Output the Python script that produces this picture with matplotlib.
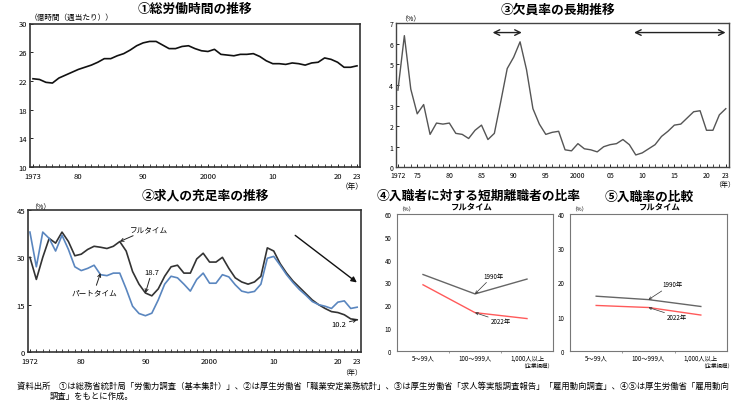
import numpy as np
import matplotlib.pyplot as plt

plt.rcParams["font.family"] = ["Noto Sans CJK JP", "DejaVu Sans"]

W, H = 750, 402

# ① 総労働時間 (億時間/週)
hours_years = list(range(1973, 2024))
hours = [22.3, 22.2, 21.8, 21.7, 22.4, 22.8, 23.2, 23.6, 23.9, 24.2,
         24.6, 25.1, 25.1, 25.5, 25.8, 26.3, 26.9, 27.3, 27.5, 27.5,
         27.0, 26.5, 26.5, 26.8, 26.9, 26.5, 26.2, 26.1, 26.4, 25.7,
         25.6, 25.5, 25.7, 25.7, 25.8, 25.4, 24.8, 24.4, 24.4, 24.3,
         24.5, 24.4, 24.2, 24.5, 24.6, 25.2, 25.0, 24.6, 23.9, 23.9, 24.1]

# ③ 欠員率 (%)
vac_years = list(range(1972, 2024))
vacancy = [3.75, 6.4, 3.8, 2.6, 3.05, 1.6, 2.15, 2.1, 2.15, 1.65,
           1.6, 1.4, 1.8, 2.05, 1.35, 1.65, 3.2, 4.8, 5.35, 6.1,
           4.75, 2.85, 2.1, 1.6, 1.7, 1.75, 0.85, 0.8, 1.15, 0.9,
           0.85, 0.75, 1.0, 1.1, 1.15, 1.35, 1.1, 0.6, 0.7, 0.9,
           1.1, 1.5, 1.75, 2.05, 2.1, 2.4, 2.7, 2.75, 1.8, 1.8, 2.55, 2.85]

# ② 求人の充足率 (%)
fill_years = list(range(1972, 2024))
fill_full = [30, 23, 30, 36, 34.5, 38, 35, 30.5, 31, 32.5,
             33.5, 33.2, 32.8, 33.5, 35, 32, 25.5, 21.5, 18.7, 17.8,
             20, 24, 27, 27.5, 25, 25, 29.5, 31.3, 28.5, 28.5,
             30, 26.5, 23.5, 22.2, 21.5, 22.2, 24, 33, 32, 28,
             25, 22.5, 20.5, 18.5, 16.5, 15, 13.8, 12.8, 12.5, 11.8, 10.5, 10.2]
fill_part = [38, 27, 38, 36, 32, 37, 32.5, 27, 25.8, 26.5,
             27.5, 24.5, 24.2, 25, 25, 20, 14.5, 12.2, 11.5, 12.3,
             16.5, 21.5, 24, 23.5, 21.5, 19.3, 23, 25, 21.8, 21.8,
             24.5, 23.8, 21.3, 19.3, 18.8, 19.2, 21.5, 29.7, 30.3, 27.5,
             24.5, 22, 19.8, 18, 16, 15, 14.5, 13.8, 15.8, 16.2, 13.8, 14.2]

# ④⑤ 企業規模別
size_labels = ["5～99人", "100～999人", "1,000人以上"]
short_sep_1990 = [33.5, 25, 31.5]
short_sep_2022 = [29, 16.8, 14.2]
entry_1990 = [16, 15, 13]
entry_2022 = [13.3, 12.7, 10.5]


def rect(l, t, r, b):
    return [l / W, 1 - b / H, (r - l) / W, (b - t) / H]


def style(ax, lw=1.0, color="#333333"):
    for s in ax.spines.values():
        s.set_linewidth(lw)
        s.set_color(color)
    ax.tick_params(direction="in", labelsize=5.5, length=2.5, width=0.6, pad=2)
    ax.tick_params(axis="x", pad=3.5)


fig = plt.figure(figsize=(W / 100, H / 100), dpi=100)
tfont = dict(fontsize=9.2, fontweight="bold")

# ---- ① ----
ax1 = fig.add_axes(rect(30, 24.5, 360, 168))
ax1.plot(hours_years, hours, color="#111111", lw=1.2)
ax1.set_xlim(1972.54, 2023.46)
ax1.set_ylim(10, 30)
ax1.set_yticks([10, 14, 18, 22, 26, 30])
ax1.set_xticks(hours_years, minor=True)
ax1.set_xticks([1973, 1980, 1990, 2000, 2010, 2020, 2023])
ax1.set_xticklabels(["1973", "80", "90", "2000", "10", "20", "23"])
style(ax1, 1.2)
ax1.tick_params(axis="x", which="minor", direction="in", length=2, width=0.5)
fig.text(195 / W, 1 - 9 / H, "①総労働時間の推移", ha="center", va="center", **tfont)
fig.text(30 / W, 1 - 18 / H, "（億時間（週当たり））", ha="left", va="center", fontsize=5.5)
fig.text(352 / W, 1 - 187 / H, "（年）", ha="center", va="center", fontsize=5.5)

# ---- ③ ----
ax3 = fig.add_axes(rect(396, 24.3, 729, 168.3))
ax3.plot(vac_years, vacancy, color="#555555", lw=1.0)
ax3.set_xlim(1971.7, 2023.5)
ax3.set_ylim(0, 7)
ax3.set_yticks(range(0, 8))
ax3.set_xticks(vac_years, minor=True)
ax3.set_xticks([1972, 1975, 1980, 1985, 1990, 1995, 2000, 2005, 2010, 2015, 2020, 2023])
ax3.set_xticklabels(["1972", "75", "80", "85", "90", "95", "2000", "05", "10", "15", "20", "23"])
style(ax3, 1.0, "#444444")
ax3.tick_params(axis="both", labelsize=5)
ax3.tick_params(axis="x", pad=2.5)
ax3.tick_params(axis="x", which="minor", direction="in", length=2, width=0.5)
ax3.annotate("", xy=(1986.3, 6.55), xytext=(1991.7, 6.55),
             arrowprops=dict(arrowstyle="<->", color="#222222", lw=1.0))
ax3.annotate("", xy=(2008.3, 6.55), xytext=(2023.4, 6.55),
             arrowprops=dict(arrowstyle="<->", color="#222222", lw=1.0))
fig.text(558 / W, 1 - 10 / H, "③欠員率の長期推移", ha="center", va="center", **tfont)
fig.text(400 / W, 1 - 19 / H, "（%）", ha="left", va="center", fontsize=5)
fig.text(725 / W, 1 - 185 / H, "（年）", ha="center", va="center", fontsize=5)

# ---- ② ----
ax2 = fig.add_axes(rect(28, 211, 361, 353))
ax2.plot(fill_years, fill_full, color="#333333", lw=1.2)
ax2.plot(fill_years, fill_part, color="#5a86bf", lw=1.2)
ax2.set_xlim(1971.7, 2023.6)
ax2.set_ylim(0, 45)
ax2.set_yticks([0, 15, 30, 45])
ax2.set_xticks(fill_years, minor=True)
ax2.set_xticks([1972, 1980, 1990, 2000, 2010, 2020, 2023])
ax2.set_xticklabels(["1972", "80", "90", "2000", "10", "20", "23"])
style(ax2, 1.2)
ax2.tick_params(axis="x", which="minor", direction="in", length=2, width=0.5)
arr = dict(arrowstyle="->", color="#222222", lw=0.7, shrinkA=0, shrinkB=0)
ax2.annotate("フルタイム", xy=(1986, 35), xytext=(1990.5, 39),
             fontsize=5.5, ha="center", va="center", arrowprops=arr)
ax2.annotate("18.7", xy=(1990, 18.7), xytext=(1991, 25.5),
             fontsize=5.5, ha="center", va="center", arrowprops=arr)
ax2.annotate("パートタイム", xy=(1983, 25), xytext=(1982, 19),
             fontsize=5.5, ha="center", va="center", arrowprops=arr)
ax2.annotate("10.2", xy=(2023, 10.2), xytext=(2020.2, 8.8),
             fontsize=5.5, ha="center", va="center", arrowprops=arr)
ax2.annotate("", xy=(2023.3, 21.5), xytext=(2013, 37.5),
             arrowprops=dict(arrowstyle="-|>", color="#111111", lw=1.0, mutation_scale=8))
fig.text(205 / W, 1 - 196 / H, "②求人の充足率の推移", ha="center", va="center", **tfont)
fig.text(30 / W, 1 - 207 / H, "（%）", ha="left", va="center", fontsize=5)
fig.text(352 / W, 1 - 373 / H, "（年）", ha="center", va="center", fontsize=5)


# ---- ④⑤ ----
def size_panel(ax, s1990, s2022, ymax, lab1990, lab2022):
    ax.plot(range(3), s1990, color="#666666", lw=1.0)
    ax.plot(range(3), s2022, color="#ff5a5a", lw=1.0)
    ax.set_xlim(-0.5, 2.5)
    ax.set_ylim(0, ymax)
    ax.set_yticks(range(0, ymax + 1, 10))
    ax.set_xticks(range(3))
    ax.set_xticklabels(size_labels)
    ax.set_xticks([0.5, 1.5], minor=True)
    style(ax, 0.8, "#777777")
    ax.tick_params(labelsize=4.5, length=0, pad=4)
    ax.tick_params(axis="x", pad=2)
    ax.tick_params(axis="x", which="minor", length=1.5, width=0.5, color="#777777")
    arr2 = dict(arrowstyle="->", color="#333333", lw=0.5, shrinkA=0, shrinkB=0)
    ax.annotate("1990年", xy=(1, s1990[1]), xytext=lab1990,
                fontsize=4.5, ha="center", va="center", arrowprops=arr2)
    ax.annotate("2022年", xy=(1, s2022[1]), xytext=lab2022,
                fontsize=4.5, ha="center", va="center", arrowprops=arr2)


ax4 = fig.add_axes(rect(397, 215, 553, 352))
size_panel(ax4, short_sep_1990, short_sep_2022, 60, (1.35, 33), (1.5, 13))
fig.text(377 / W, 1 - 196 / H, "④入職者に対する短期離職者の比率", ha="left", va="center", **tfont)
fig.text(472 / W, 1 - 207 / H, "フルタイム", ha="center", va="center", fontsize=6, fontweight="bold")
fig.text(398 / W, 1 - 210 / H, "（%）", ha="left", va="center", fontsize=4)
fig.text(537 / W, 1 - 366 / H, "（企業規模）", ha="center", va="center", fontsize=4)

ax5 = fig.add_axes(rect(570, 215, 727, 352))
size_panel(ax5, entry_1990, entry_2022, 40, (1.45, 19.5), (1.55, 10))
fig.text(605 / W, 1 - 197 / H, "⑤入職率の比較", ha="left", va="center", **tfont)
fig.text(660 / W, 1 - 207 / H, "フルタイム", ha="center", va="center", fontsize=6, fontweight="bold")
fig.text(571 / W, 1 - 210 / H, "（%）", ha="left", va="center", fontsize=4)
fig.text(717 / W, 1 - 366 / H, "（企業規模）", ha="center", va="center", fontsize=4)

# ---- 資料出所 ----
fig.text(17 / W, 1 - 386 / H,
         "資料出所　①は総務省統計局「労働力調査（基本集計）」、②は厚生労働省「職業安定業務統計」、"
         "③は厚生労働省「求人等実態調査報告」「雇用動向調査」、④⑤は厚生労働省「雇用動向",
         ha="left", va="center", fontsize=6.0)
fig.text(50 / W, 1 - 396 / H, "調査」をもとに作成。", ha="left", va="center", fontsize=6.0)

fig.savefig("out.png", dpi=100)
